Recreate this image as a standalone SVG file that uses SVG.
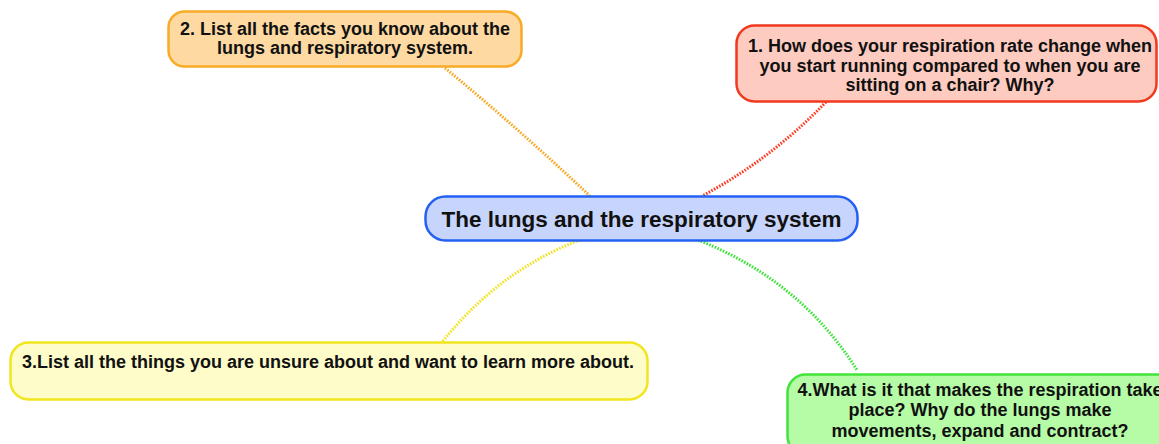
<svg xmlns="http://www.w3.org/2000/svg" width="1159" height="444" viewBox="0 0 1159 444">
<style>
.t{font-family:"Liberation Sans",Arial,Helvetica,sans-serif;font-weight:bold;fill:#111;text-anchor:middle}
.s{font-size:18px}
.c{fill:none;stroke-width:3;stroke-dasharray:1.6 1.4}
</style>
<rect width="1159" height="444" fill="#fff"/>
<g id="connectors">
<path class="c" stroke="#f7a823" d="M445 68 Q520 130 590 196"/>
<path class="c" stroke="#ff3a22" d="M826 102 Q770 160 702 196"/>
<path class="c" stroke="#f0e322" d="M580 240 Q500 270 442 342"/>
<path class="c" stroke="#3ee43a" d="M698 240 Q800 280 857 370"/>
</g>
<g id="center">
<rect x="425.500" y="196.500" width="432" height="44" rx="20" fill="#c7d4fb" stroke="#2461f3" stroke-width="2.500"/>
<text class="t" x="641.500" y="226.500" font-size="22.500">The lungs and the respiratory system</text>
</g>
<g id="node2">
<rect x="168.500" y="11.500" width="353" height="55" rx="16" fill="#fed9a2" stroke="#f8ab26" stroke-width="2.500"/>
<text class="t s" x="345" y="34.500">2. List all the facts you know about the</text>
<text class="t s" x="345" y="54">lungs and respiratory system.</text>
</g>
<g id="node1">
<rect x="736.500" y="25.500" width="420" height="76" rx="18" fill="#fecbc0" stroke="#f1391f" stroke-width="2.500"/>
<text class="t s" x="950" y="52">1. How does your respiration rate change when</text>
<text class="t s" x="950" y="71.500">you start running compared to when you are</text>
<text class="t s" x="950" y="91">sitting on a chair? Why?</text>
</g>
<g id="node3">
<rect x="10.500" y="342.500" width="637" height="57" rx="18" fill="#fefcc8" stroke="#f1e51e" stroke-width="2.500"/>
<text class="t s" x="328" y="367.500">3.List all the things you are unsure about and want to learn more about.</text>
</g>
<g id="node4">
<rect x="787.500" y="374.500" width="420" height="80" rx="18" fill="#b6fba6" stroke="#42e43a" stroke-width="2.500"/>
<text class="t s" x="980" y="395.500">4.What is it that makes the respiration take</text>
<text class="t s" x="980" y="416">place? Why do the lungs make</text>
<text class="t s" x="980" y="436.500">movements, expand and contract?</text>
</g>
</svg>
